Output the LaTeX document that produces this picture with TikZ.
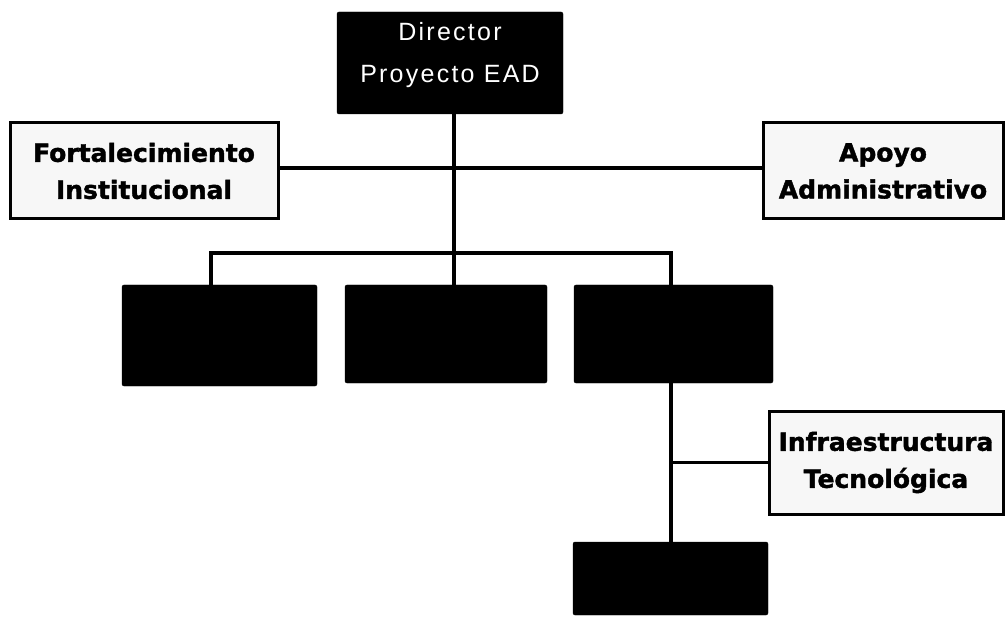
\documentclass[tikz,border=0pt]{standalone}
\usepackage{fontspec}
\setmainfont{Liberation Sans}
\newfontfamily\headfont[LetterSpace=9]{Liberation Sans}
\newfontfamily\unitfont[BoldFeatures={FakeBold=1.6}]{DejaVu Sans}

\begin{document}
\begin{tikzpicture}[x=1pt, y=-1pt, darkbox/.style={rectangle, fill=black, draw=black, rounded corners=2pt}, lightbox/.style={rectangle, draw, line width=3pt, fill=gray!6, align=center, font=\unitfont\bfseries\fontsize{25}{37}\selectfont}, link/.style={line width=3.5pt}]
  {
  \useasboundingbox (0,0) rectangle (1006,617);
  \node[darkbox, minimum width=226, minimum height=102, align=center, text=white, text depth=22, font=\headfont\fontsize{25}{42}\selectfont] (director) at (450,63) {Director\\Proyecto EAD};
  \node[lightbox, minimum width=268, minimum height=96] (fortal) at (144,171) {Fortalecimiento\\Institucional};
  \node[lightbox, minimum width=240, minimum height=96] (apoyo) at (883,171) {Apoyo\\Administrativo};
  \node[darkbox, minimum width=195, minimum height=101] (unitA) at (219.5,335.5) {};
  \node[darkbox, minimum width=202, minimum height=98] (unitB) at (446,334) {};
  \node[darkbox, minimum width=199, minimum height=98] (unitC) at (673.5,334) {};
  \node[lightbox, minimum width=234, minimum height=103] (infra) at (886,462.5) {Infraestructura\\Tecnol\'ogica};
  \node[darkbox, minimum width=195, minimum height=73] (unitD) at (670.5,578.5) {};

  \coordinate (spine) at (454,168);
  \coordinate (dropA) at (211,253);
  \coordinate (dropC) at (671,253);

  \draw[link] (director.south -| spine) -- (unitB.north -| spine);
  \draw[link] (fortal.east |- spine) -- (apoyo.west |- spine);
  \draw[link] (unitA.north -| dropA) -- (dropA) -- (dropC) -- (unitC.north -| dropC);
  \draw[link] (unitC.south -| dropC) -- (unitD.north -| dropC);
  \draw[link] (dropC |- infra.west) -- (infra.west);
}
\end{tikzpicture}
\end{document}
